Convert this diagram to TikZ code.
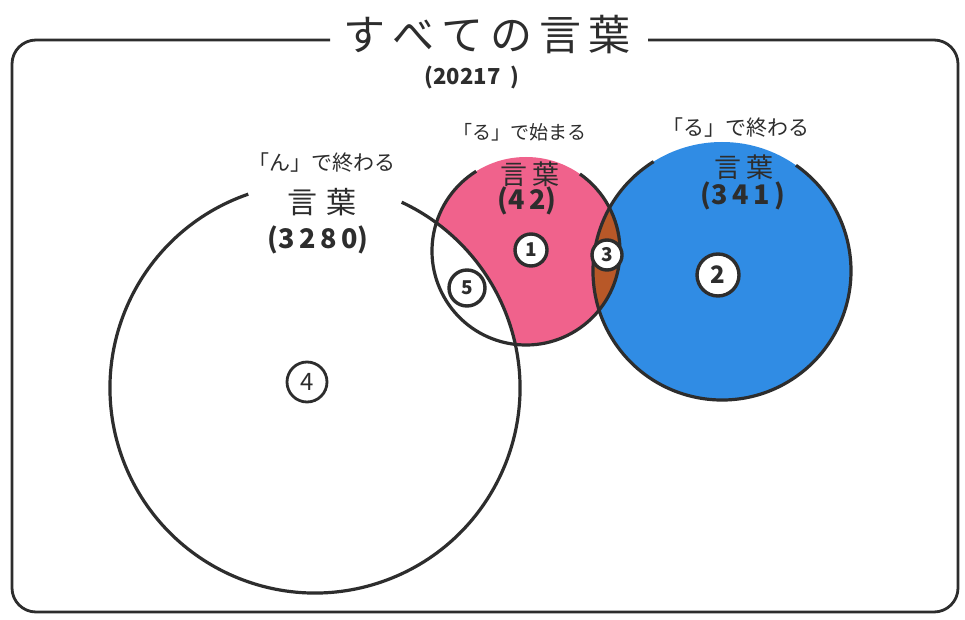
\documentclass[tikz,border=0pt]{standalone}
\usepackage{fontspec}
\newfontfamily\jp{Noto Sans CJK JP}
\definecolor{pinkfill}{RGB}{240,98,140}
\definecolor{bluefill}{RGB}{48,140,228}
\definecolor{brownfill}{RGB}{184,88,40}
\definecolor{ink}{RGB}{45,45,45}
\begin{document}
\begin{tikzpicture}[x=1pt,y=1pt,
  outline/.style={draw=ink,line width=3.2pt},
  framel/.style={draw=ink,line width=2.8pt,rounded corners=24pt},
  lab/.style={font=\jp\fontsize{21}{24}\selectfont,text=ink,inner sep=0pt},
  labw/.style={font=\jp\fontsize{30}{32}\selectfont,text=ink,inner sep=0pt},
  num/.style={font=\jp\bfseries\fontsize{27}{30}\selectfont,text=ink,inner sep=0pt},
  cnum/.style={circle,draw=ink,line width=3.4pt,fill=white,inner sep=0pt,
    font=\jp\bfseries\fontsize{19}{20}\selectfont,text=ink}]
\useasboundingbox (0,0) rectangle (965,619);
\fill[white] (0,0) rectangle (965,619);
% circle centres
\coordinate (B) at (315,231);
\coordinate (P) at (526,368);
\coordinate (Q) at (722,348);
% fills
\fill[bluefill] (Q) circle[radius=129];
\fill[pinkfill] (P) circle[radius=94];
\begin{scope}
  \clip (P) circle[radius=94];
  \fill[white] (B) circle[radius=205];
  \fill[brownfill] (Q) circle[radius=129];
\end{scope}
% outlines with gaps for the labels
\draw[outline] (B) ++(109:205) arc[start angle=109,end angle=425,radius=205];
\draw[outline] (P) ++(122:94) arc[start angle=122,end angle=415,radius=94];
\draw[outline] (Q) ++(122:129) arc[start angle=122,end angle=415,radius=129];
% frame
\draw[framel] (330,579) -- (12,579) -- (12,7) -- (958,7) -- (958,579) -- (648,579);
% title
\node[font=\jp\fontsize{42}{44}\selectfont,text=ink,inner sep=0pt] (title) at (487,584) {す\,べ\,て\,の\,言\,葉};
\node[font=\jp\bfseries\fontsize{22}{24}\selectfont,text=ink,inner sep=0pt] (total) at (472,541) {(20217\ \ )};
% labels
\node[lab] (n1) at (322,456) {「ん」で終わる};
\node[labw] (n2) at (322,417) {言\,\,葉};
\node[num] (n3) at (318,379) {(3\,2\,8\,0)};
\node[lab,font=\jp\fontsize{19}{22}\selectfont] (p1) at (520,487) {「る」で始まる};
\node[labw,font=\jp\fontsize{27}{30}\selectfont] (p2) at (530,445) {言\,葉};
\node[num] (p3) at (527,418) {(4\,2)};
\node[lab] (b1) at (736,491) {「る」で終わる};
\node[labw,font=\jp\fontsize{27}{30}\selectfont] (b2) at (744,452) {言\,葉};
\node[num] (b3) at (743,423) {(3\,4\,1\,)};
% region numbers
\node[cnum,minimum size=32pt] (c1) at (531,369) {1};
\node[cnum,minimum size=42pt,font=\jp\bfseries\fontsize{24}{24}\selectfont] (c2) at (718,344) {2};
\node[cnum,minimum size=30pt] (c3) at (607,364) {3};
\node[cnum,minimum size=40pt,line width=2.8pt,font=\jp\fontsize{24}{24}\selectfont] (c4) at (307,237) {4};
\node[cnum,minimum size=36pt] (c5) at (467,331) {5};
\end{tikzpicture}
\end{document}
